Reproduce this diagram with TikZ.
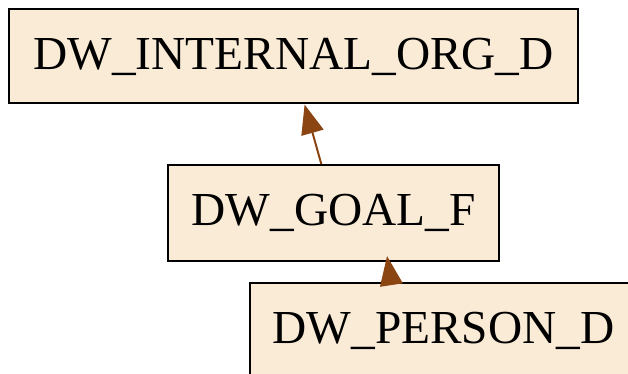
\documentclass[tikz,border=0pt]{standalone}
\usepackage{fontspec}
\setmainfont{Liberation Serif}
\usetikzlibrary{arrows.meta,positioning}
\definecolor{tabfill}{HTML}{FAEBD7}
\definecolor{kantenbraun}{HTML}{8B4513}
\begin{document}
\begin{tikzpicture}[x=0.75pt,y=-0.75pt,
  tabelle/.style={draw=black,line width=1.5pt,fill=tabfill,inner sep=0pt,
    minimum height=72pt,font=\fontsize{35.5}{40}\selectfont},
  kante/.style={draw=kantenbraun,line width=1.5pt,
    -{Triangle[length=22pt,width=17pt]}}]
%Bild ist rechts und unten abgeschnitten
\clip (0,0) rectangle (628,374);
\node[tabelle,minimum width=427pt,minimum height=70.5pt] (org) at (293.5,56.5) {DW\_INTERNAL\_ORG\_D};
\node[tabelle,minimum width=248pt] (goal) at (333.5,213) {DW\_GOAL\_F};
\node[tabelle,minimum width=290pt] (person) at (443.5,331) {DW\_PERSON\_D};
%Kanten
\draw[kante] (goal.104.6) -- (org.-77.4);
\draw[kante,shorten >=-4.5pt] (person.137) -- (goal.-42.4);
\end{tikzpicture}
\end{document}
